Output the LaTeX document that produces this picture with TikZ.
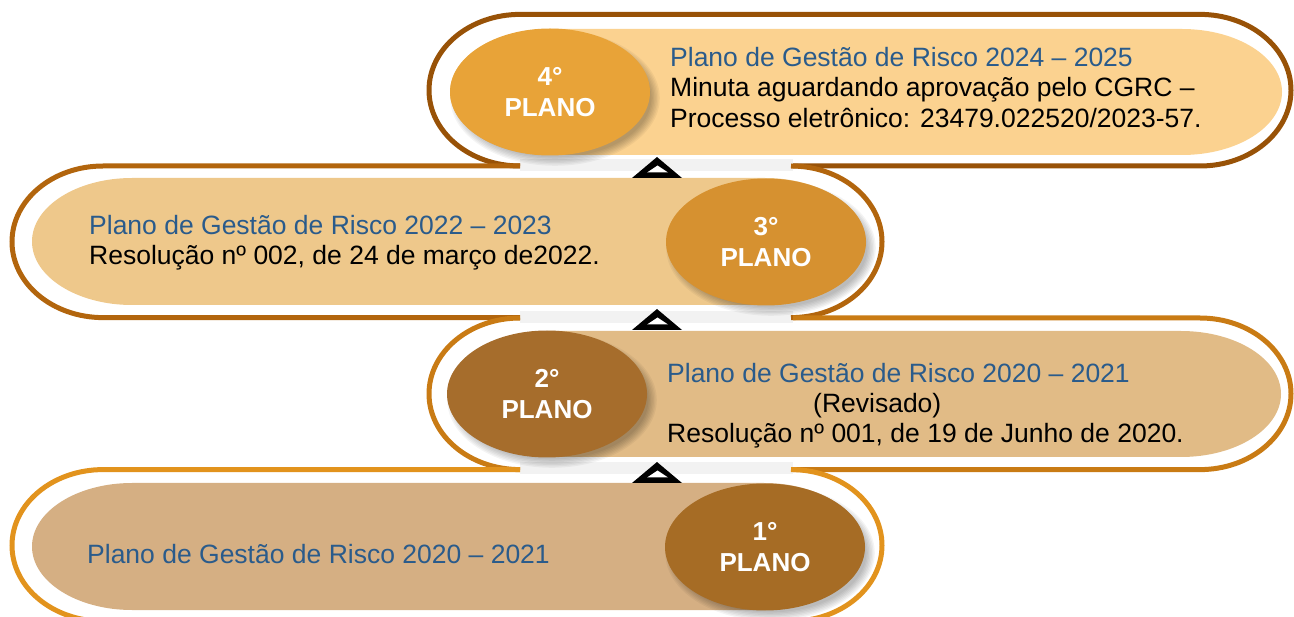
\documentclass[tikz,border=0pt]{standalone}
\usepackage{fontspec}
\setmainfont{Liberation Sans}
\usetikzlibrary{shapes.geometric}
\definecolor{olA}{HTML}{985207}
\definecolor{olB}{HTML}{B2650D}
\definecolor{olC}{HTML}{C97B14}
\definecolor{olD}{HTML}{E2931D}
\definecolor{fA}{HTML}{FBD290}
\definecolor{fB}{HTML}{EEC88B}
\definecolor{fC}{HTML}{E1BB86}
\definecolor{fD}{HTML}{D5AF83}
\definecolor{eA}{HTML}{E8A338}
\definecolor{eB}{HTML}{D69130}
\definecolor{eC}{HTML}{A66D2C}
\definecolor{eD}{HTML}{A66C25}
\definecolor{txtblue}{HTML}{2A5B8B}
\definecolor{bandgray}{HTML}{F2F2F2}
\tikzset{
  outl/.style={line width=5pt},
  plano/.style={ellipse, minimum width=200pt, minimum height=127pt, inner sep=0pt,
    text=white, font=\fontsize{26}{31}\selectfont\bfseries, align=center},
  body/.style={anchor=base west, inner sep=0pt, font=\fontsize{26.5}{30}\selectfont},
  ttl/.style={body, text=txtblue},
  band/.style={fill=bandgray},
}
\newcommand\eshadow[2]{%
  \foreach \k in {1,...,7}{%
    \fill[black,opacity=0.045] ({#1+5},{#2+6}) ellipse [x radius={95pt+\k*1.4pt}, y radius={58pt+\k*1.4pt}];}}
\newcommand\uptri[2]{%
  \fill[black] (#1,#2) -- ({#1+25},{#2+21}) -- ({#1-25},{#2+21}) -- cycle;
  \fill[white] ({#1+0.5},{#2+8.5}) -- ({#1+11},{#2+15.5}) -- ({#1-10},{#2+15.5}) -- cycle;}
\begin{document}
\begin{tikzpicture}[x=1pt,y=1pt,yscale=-1]
\useasboundingbox (0,0) rectangle (1294,617);
% gray bands
\fill[band] (520,159) rectangle (793,171);
\fill[band] (520,311) rectangle (793,323);
\fill[band] (520,462) rectangle (793,474);
% outlines
\draw[outl,olA] (520,166) arc[start angle=90,end angle=270,x radius=91pt,y radius=75.8pt]
  -- (1200,14.4) arc[start angle=270,end angle=450,x radius=91pt,y radius=75.8pt] -- (793,166);
\draw[outl,olB] (520,166) -- (103,166) arc[start angle=270,end angle=90,x radius=91pt,y radius=75.8pt] -- (520,317.6);
\draw[outl,olB] (791,317.6) arc[start angle=90,end angle=-90,x radius=91pt,y radius=75.8pt];
\draw[outl,olC] (793,318) -- (1200,318) arc[start angle=270,end angle=450,x radius=91pt,y radius=75.8pt] -- (793,469.6);
\draw[outl,olC] (520,318) arc[start angle=270,end angle=90,x radius=91pt,y radius=75.8pt];
\draw[outl,olD] (520,469.6) -- (103,469.6) arc[start angle=270,end angle=90,x radius=91pt,y radius=75.8pt]
  -- (791,621.2) arc[start angle=90,end angle=-90,x radius=91pt,y radius=75.8pt];
% fills
\fill[fA] (550,29) -- (1182,29) arc[start angle=270,end angle=450,x radius=100pt,y radius=63pt]
  -- (550,155) arc[start angle=90,end angle=270,x radius=100pt,y radius=63pt] -- cycle;
\fill[fB] (132,178) -- (765,178) arc[start angle=270,end angle=450,x radius=100pt,y radius=63.5pt]
  -- (132,305) arc[start angle=90,end angle=270,x radius=100pt,y radius=63.5pt] -- cycle;
\fill[fC] (548,331) -- (1181,331) arc[start angle=270,end angle=450,x radius=100pt,y radius=63pt]
  -- (548,457) arc[start angle=90,end angle=270,x radius=100pt,y radius=63pt] -- cycle;
\fill[fD] (132,483) -- (764,483) arc[start angle=270,end angle=450,x radius=100pt,y radius=63.5pt]
  -- (132,610) arc[start angle=90,end angle=270,x radius=100pt,y radius=63.5pt] -- cycle;
% shadows
\eshadow{550}{92}
\eshadow{766}{242}
\eshadow{547}{394}
\eshadow{765}{547}
% ellipses
\node[plano, fill=eA] (e4) at (550,92) {4°\\PLANO};
\node[plano, fill=eB] (e3) at (766,242) {3°\\PLANO};
\node[plano, fill=eC] (e2) at (547,394) {2°\\PLANO};
\node[plano, fill=eD] (e1) at (765,547) {1°\\PLANO};
% triangles
\uptri{657}{157}
\uptri{657}{309}
\uptri{657}{462}
% texts
\node[ttl] (t4a) at (670,67) {Plano de Gestão de Risco 2024 – 2025};
\node[body] (t4b) at (670,97) {Minuta aguardando aprovação pelo CGRC –};
\node[body] (t4c) at (670,128) {Processo eletrônico: 23479.022520/2023-57.};
\node[ttl] (t3a) at (89,235) {Plano de Gestão de Risco 2022 – 2023};
\node[body] (t3b) at (89,265) {Resolução nº 002, de 24 de março de2022.};
\node[ttl] (t2a) at (667,383) {Plano de Gestão de Risco 2020 – 2021};
\node[body] (t2b) at (813,413) {(Revisado)};
\node[body] (t2c) at (667,443) {Resolução nº 001, de 19 de Junho de 2020.};
\node[ttl] (t1a) at (87,563) {Plano de Gestão de Risco 2020 – 2021};
\end{tikzpicture}
\end{document}
